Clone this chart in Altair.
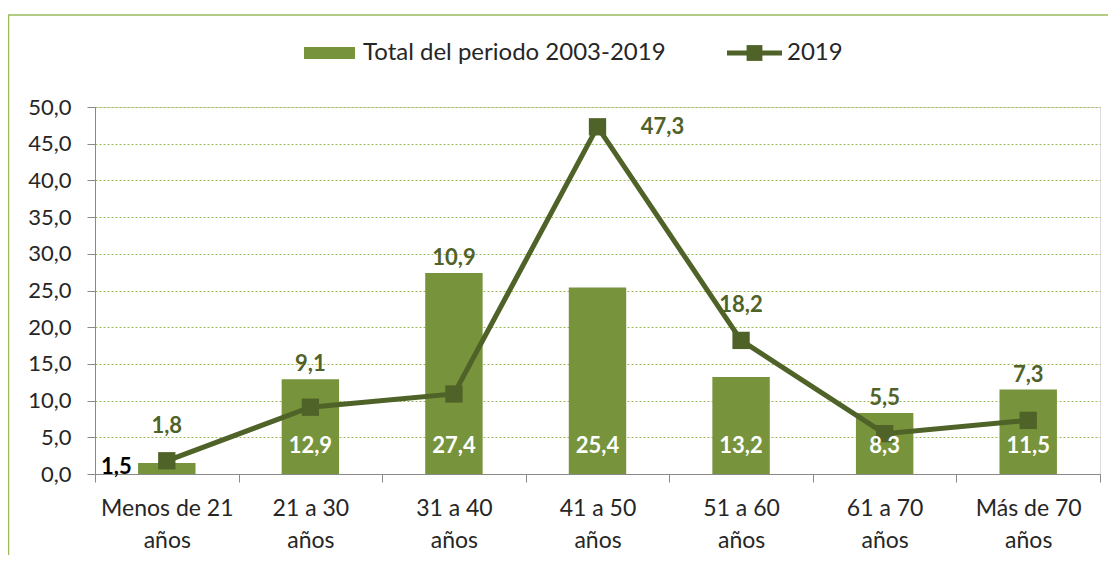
import altair as alt
import pandas as pd

categories = ["Menos de 21 años", "21 a 30 años", "31 a 40 años", "41 a 50 años",
              "51 a 60 años", "61 a 70 años", "Más de 70 años"]
total_periodo = [1.5, 12.9, 27.4, 25.4, 13.2, 8.3, 11.5]
valores_2019 = [1.8, 9.1, 10.9, 47.3, 18.2, 5.5, 7.3]
legend_labels = ["Total del periodo 2003-2019", "2019"]
y_ticks = [0, 5, 10, 15, 20, 25, 30, 35, 40, 45, 50]

BAR = "#77933C"
LINE = "#4F6228"
TXT = "#262626"
AXIS = "#898989"
FONT = "Lato"

W, H = 1005, 367

df = pd.DataFrame({"cat": categories, "total": total_periodo, "v2019": valores_2019})

base = alt.Chart(df).transform_calculate(
    lt="replace(format(datum.total, '.1f'), '.', ',')",
    lv="replace(format(datum.v2019, '.1f'), '.', ',')",
)

x_axis = alt.Axis(
    title=None, labelAngle=0, grid=False,
    labelExpr="datum.label ? [substring(datum.label, 0, lastindexof(datum.label, ' ')), 'años'] : ''",
    labelFont=FONT, labelFontSize=23, labelColor=TXT, labelLineHeight=32,
    labelPadding=15, tickBand="extent", tickSize=8, tickColor=AXIS,
    domainColor=AXIS, domainWidth=1, labelFlush=False, labelOverlap=False,
    labelBound=False, labelAlign="center",
)
x_enc = alt.X("cat:N", sort=categories,
              scale=alt.Scale(paddingInner=0, paddingOuter=0), axis=x_axis)

y_scale = alt.Scale(domain=[0, 50], nice=False, zero=True)
y_axis = alt.Axis(
    title=None, values=y_ticks, tickCount=20,
    labelExpr="replace(format(datum.value, '.1f'), '.', ',')",
    labelFont=FONT, labelFontSize=22, labelColor=TXT, labelPadding=16,
    labelOverlap=False, labelFlush=False,
    tickSize=8, tickColor=AXIS, domainColor=AXIS,
    grid=True, gridColor="#9BBB59", gridDash=[2, 2], gridWidth=1,
)


def yq(field):
    return alt.Y(field, type="quantitative", scale=y_scale, axis=y_axis)


bars = base.mark_bar(color=BAR, width=alt.RelativeBandSize(0.4)).encode(
    x=x_enc, y=yq("total")
)
line = base.mark_line(color=LINE, strokeWidth=5).encode(x=x_enc, y=yq("v2019"))
pts = base.mark_point(shape="square", filled=True, size=300, color=LINE, opacity=1).encode(
    x=x_enc, y=yq("v2019")
)

txt_kw = dict(font=FONT, fontSize=22, fontWeight="bold", baseline="middle")

bar_lbl = base.transform_filter("datum.total >= 5").mark_text(
    color="white", dy=-28, **txt_kw
).encode(x=x_enc, y=alt.datum(0, scale=y_scale, axis=y_axis), text="lt:N")
small_lbl = base.transform_filter("datum.total < 5").mark_text(
    color="black", align="right", dx=-35, dy=-7, **txt_kw
).encode(x=x_enc, y=alt.datum(0, scale=y_scale, axis=y_axis), text="lt:N")

lv_above_bar = base.transform_filter("datum.v2019 < datum.total").mark_text(
    color=LINE, dy=-15, **txt_kw
).encode(x=x_enc, y=yq("total"), text="lv:N")
lv_above_pt = base.transform_filter("datum.v2019 >= datum.total && datum.v2019 < 40").mark_text(
    color=LINE, dy=-35, **txt_kw
).encode(x=x_enc, y=yq("v2019"), text="lv:N")
lv_right = base.transform_filter("datum.v2019 >= 40").mark_text(
    color=LINE, dx=65, dy=0, **txt_kw
).encode(x=x_enc, y=yq("v2019"), text="lv:N")

one = alt.Chart(pd.DataFrame({"a": [0]}))

frame = one.mark_rect(fillOpacity=0, stroke="#9BBB59", strokeWidth=1.5).encode(
    x=alt.value(-86.5), x2=alt.value(1150), y=alt.value(-92), y2=alt.value(600)
)
leg_sw = one.mark_rect(color=BAR).encode(
    x=alt.value(209), x2=alt.value(260), y=alt.value(-60), y2=alt.value(-48)
)
leg_t1 = one.mark_text(font=FONT, fontSize=24, color=TXT, align="left", baseline="middle").encode(
    x=alt.value(268), y=alt.value(-54), text=alt.value(legend_labels[0])
)
leg_ln = one.mark_rule(color=LINE, strokeWidth=5).encode(
    x=alt.value(632), x2=alt.value(687), y=alt.value(-54)
)
leg_pt = one.mark_point(shape="square", filled=True, size=250, color=LINE, opacity=1).encode(
    x=alt.value(659.5), y=alt.value(-54)
)
leg_t2 = one.mark_text(font=FONT, fontSize=24, color=TXT, align="left", baseline="middle").encode(
    x=alt.value(692), y=alt.value(-54), text=alt.value(legend_labels[1])
)

chart = alt.layer(
    frame, bars, line, pts, bar_lbl, small_lbl, lv_above_bar, lv_above_pt, lv_right,
    leg_sw, leg_t1, leg_ln, leg_pt, leg_t2,
).properties(
    width=W, height=H,
    autosize=alt.AutoSizeParams(type="none"),
    padding={"left": 87, "top": 99, "right": 8, "bottom": 81},
).configure_view(stroke=None).configure(background="white")

chart.save("out.html", embed_options={"renderer": "svg", "actions": False})
